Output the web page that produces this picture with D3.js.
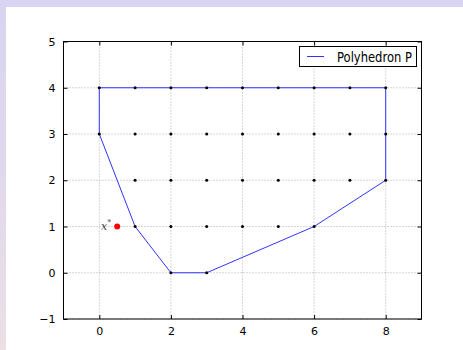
<!DOCTYPE html>
<html>
<head>
<meta charset="utf-8">
<style>
  body { margin: 0; }
  #bg {
    position: absolute; left: 0; top: 0; width: 463px; height: 350px;
    background: linear-gradient(to bottom, #d8d4f1 0%, #e0d8ec 50%, #ece0e4 100%);
  }
  svg { position: absolute; left: 0; top: 0; }
  text { font-family: "DejaVu Sans", sans-serif; }
</style>
</head>
<body>
<div id="bg"></div>
<svg id="svg" width="463" height="350"></svg>
<script src="https://d3js.org/d3.v7.min.js"></script>
<script>
(function(d3) {
  'use strict';
  // polygon vertices
  var polyX = [0, 8, 8, 6, 3, 2, 1, 0, 0];
  var polyY = [4, 4, 2, 1, 0, 0, 1, 3, 4];
  // integer points inside, by row
  var rowY = [4, 3, 2, 1, 0];
  var rowX = [
    [0, 1, 2, 3, 4, 5, 6, 7, 8],
    [0, 1, 2, 3, 4, 5, 6, 7, 8],
    [1, 2, 3, 4, 5, 6, 7, 8],
    [1, 2, 3, 4, 5, 6],
    [2, 3]
  ];
  var starX = 0.5, starY = 1;
  var xTicks = [0, 2, 4, 6, 8];
  var yTicks = [-1, 0, 1, 2, 3, 4, 5];

  var svg = d3.select('#svg');
  svg.append('rect').attr('x', 6).attr('y', 7).attr('width', 457).attr('height', 343).attr('fill', '#fff');

  var left = 63.5, right = 421.5, top = 41.5, bottom = 319;
  var x = d3.scaleLinear().domain([-1, 9]).range([left, right]);
  var y = d3.scaleLinear().domain([-1, 5]).range([bottom, top]);

  // grid
  var grid = svg.append('g').attr('stroke', '#999').attr('stroke-width', 0.8).attr('stroke-dasharray', '1,2');
  grid.selectAll('.vx').data(xTicks).enter().append('line')
    .attr('x1', function(d) { return x(d); }).attr('x2', function(d) { return x(d); })
    .attr('y1', top).attr('y2', bottom);
  grid.selectAll('.hy').data(yTicks).enter().append('line')
    .attr('y1', function(d) { return y(d); }).attr('y2', function(d) { return y(d); })
    .attr('x1', left).attr('x2', right);

  // polygon
  var pts = polyX.map(function(v, i) { return [v, polyY[i]]; });
  svg.append('path')
    .attr('d', d3.line().x(function(d) { return x(d[0]); }).y(function(d) { return y(d[1]); })(pts))
    .attr('fill', 'none').attr('stroke', '#3333ff').attr('stroke-width', 1);

  // dots
  var dots = [];
  rowY.forEach(function(yy, i) { rowX[i].forEach(function(xx) { dots.push([xx, yy]); }); });
  svg.selectAll('.dot').data(dots).enter().append('circle')
    .attr('cx', function(d) { return x(d[0]); }).attr('cy', function(d) { return y(d[1]); })
    .attr('r', 1.5).attr('fill', '#000');

  svg.append('circle').attr('cx', x(starX)).attr('cy', y(starY)).attr('r', 3).attr('fill', '#ff0000');
  var lab = svg.append('text').attr('x', x(starX) - 6).attr('y', y(starY) + 3)
    .attr('text-anchor', 'end').attr('font-size', 11).attr('fill', '#444')
    .style('font-family', 'DejaVu Serif, serif').style('font-style', 'italic');
  lab.append('tspan').text('x');
  lab.append('tspan').attr('dy', -5).attr('font-size', 8).text('*');

  // frame
  svg.append('rect').attr('x', left).attr('y', top).attr('width', right - left).attr('height', bottom - top)
    .attr('fill', 'none').attr('stroke', '#000').attr('stroke-width', 1);

  // axes with inward ticks
  var xb = d3.axisBottom(x).tickValues(xTicks).tickSize(-4).tickPadding(8).tickFormat(d3.format('d'));
  var xt = d3.axisTop(x).tickValues(xTicks).tickSize(-4).tickFormat('');
  var yl = d3.axisLeft(y).tickValues(yTicks).tickSize(-4).tickPadding(8)
    .tickFormat(function(d) { return d < 0 ? '\u2212' + Math.abs(d) : d; });
  var yr = d3.axisRight(y).tickValues(yTicks).tickSize(-4).tickFormat('');
  [[xb, 'translate(0,' + bottom + ')'], [xt, 'translate(0,' + top + ')'],
   [yl, 'translate(' + left + ',0)'], [yr, 'translate(' + right + ',0)']].forEach(function(a) {
    var g = svg.append('g').attr('transform', a[1]).call(a[0]);
    g.select('.domain').remove();
    g.selectAll('text').attr('font-size', 11).attr('fill', '#000').style('font-family', 'DejaVu Sans, sans-serif');
  });

  // legend
  var lg = svg.append('g');
  lg.append('rect').attr('x', 299.5).attr('y', 46.5).attr('width', 117).attr('height', 20)
    .attr('fill', '#fff').attr('stroke', '#000').attr('stroke-width', 1);
  lg.append('line').attr('x1', 307).attr('x2', 324).attr('y1', 56.5).attr('y2', 56.5)
    .attr('stroke', '#3333ff').attr('stroke-width', 1);
  lg.append('text').attr('x', 337).attr('y', 61.5).attr('font-size', 13.5).attr('fill', '#000')
    .attr('textLength', 75).attr('lengthAdjust', 'spacingAndGlyphs').text('Polyhedron P');
})(window.d3);
</script>
</body>
</html>
